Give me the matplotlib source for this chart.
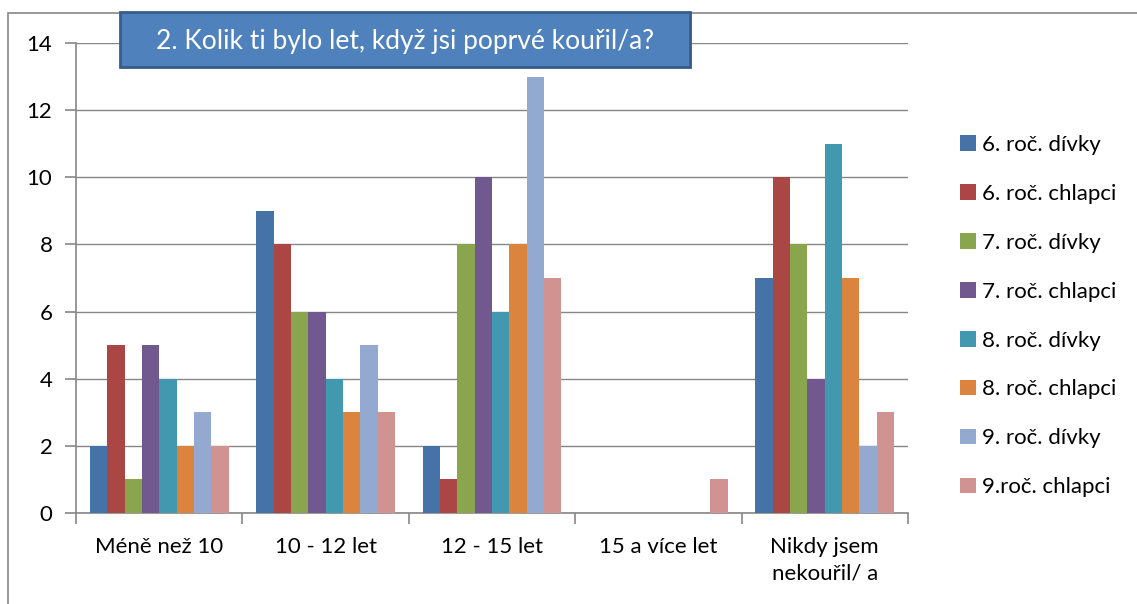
import matplotlib.pyplot as plt
import numpy as np
from matplotlib.patches import Rectangle

plt.rcParams['font.family'] = ['Lato', 'DejaVu Sans']

kategorie = ["Méně než 10", "10 - 12 let", "12 - 15 let", "15 a více let", "Nikdy jsem\nnekouřil/ a"]
skupiny = ["6. roč. dívky", "6. roč. chlapci", "7. roč. dívky", "7. roč. chlapci",
           "8. roč. dívky", "8. roč. chlapci", "9. roč. dívky", "9.roč. chlapci"]
hodnoty = [
    [2, 9, 2, 0, 7],
    [5, 8, 1, 0, 10],
    [1, 6, 8, 0, 8],
    [5, 6, 10, 0, 4],
    [4, 4, 6, 0, 11],
    [2, 3, 8, 0, 7],
    [3, 5, 13, 0, 2],
    [2, 3, 7, 1, 3],
]
barvy = ["#4572A7", "#AA4643", "#89A54E", "#71588F", "#4198AF", "#DB843D", "#93A9CF", "#D19392"]

W, H = 1137, 604
fig = plt.figure(figsize=(W / 100, H / 100), dpi=100)
ax = fig.add_axes([76 / W, 1 - 513 / H, 832 / W, 470 / H])

x = np.arange(len(kategorie))
n = len(skupiny)
sirka = 1 / 9.6
for i, (nazev, vals) in enumerate(zip(skupiny, hodnoty)):
    ax.bar(x + (i - (n - 1) / 2) * sirka, vals, sirka, color=barvy[i], label=nazev, zorder=3)

seda = "#868686"
ax.set_xlim(-0.5, len(kategorie) - 0.5)
ax.set_ylim(0, 14)
ax.set_yticks(range(0, 15, 2))
ax.grid(axis="y", color=seda, linewidth=1, zorder=0)
for s in ["top", "right"]:
    ax.spines[s].set_visible(False)
for s in ["left", "bottom"]:
    ax.spines[s].set_color(seda)
    ax.spines[s].set_linewidth(1.2)

ax.set_xticks(x)
ax.set_xticklabels(kategorie, fontsize=16, linespacing=1.45, va="top")
ax.set_xticks(np.arange(-0.5, len(kategorie)), minor=True)
ax.tick_params(axis="x", which="major", length=0, pad=17)
ax.tick_params(axis="x", which="minor", length=8, color=seda, width=1.2)
ax.tick_params(axis="y", length=8, color=seda, width=1.2, labelsize=16, pad=9)

leg = ax.legend(loc="upper left", bbox_to_anchor=(940 / W, 1 - 115 / H), bbox_transform=fig.transFigure,
                frameon=False, fontsize=16, handlelength=0.7, handleheight=0.7,
                handletextpad=0.3, labelspacing=1.3)

# vnější rámeček
fig.patches.append(Rectangle((8 / W, -0.1), 1.2, 1 - 13 / H + 0.1, transform=fig.transFigure,
                             fill=False, edgecolor=seda, linewidth=1.2))

# nadpis v modrém rámečku se stínem
fig.patches.append(Rectangle((122 / W, 1 - 69 / H), 570 / W, 55 / H, transform=fig.transFigure,
                             facecolor="#a0a0a0", edgecolor="none", alpha=0.6, zorder=5))
fig.patches.append(Rectangle((120 / W, 1 - 67 / H), 570 / W, 55 / H, transform=fig.transFigure,
                             facecolor="#4F81BD", edgecolor="#385D8A", linewidth=2, zorder=6))
fig.text(405 / W, 1 - 41 / H, "2. Kolik ti bylo let, když jsi poprvé kouřil/a?", color="white",
         fontsize=19, ha="center", va="center", zorder=7)

fig.savefig("out.png", dpi=100)
